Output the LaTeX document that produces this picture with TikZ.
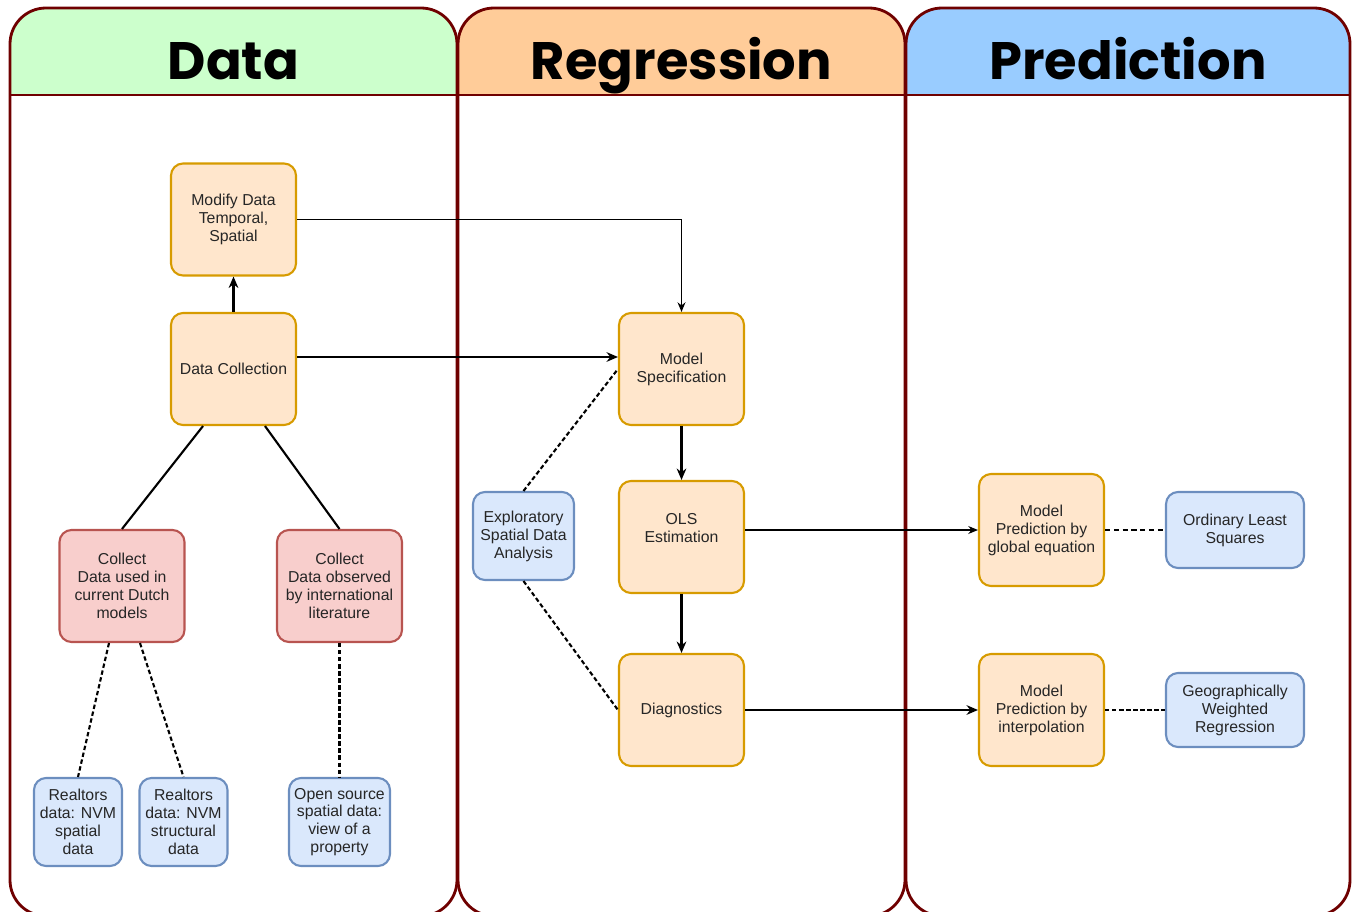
\documentclass[tikz,border=0pt]{standalone}
\usepackage{fontspec}
\setmainfont{Liberation Sans}
\newfontfamily\lanefont{Poppins}
\usetikzlibrary{arrows.meta}

\definecolor{datagreen}{HTML}{CCFFCC}
\definecolor{reggold}{HTML}{FFCC99}
\definecolor{predblue}{HTML}{99CCFF}
\definecolor{lanered}{HTML}{6F0000}
\definecolor{orangefill}{HTML}{FFE6CC}
\definecolor{orangeline}{HTML}{D79B00}
\definecolor{redfill}{HTML}{F8CECC}
\definecolor{redline}{HTML}{B85450}
\definecolor{bluefill}{HTML}{DAE8FC}
\definecolor{blueline}{HTML}{6C8EBF}

\begin{document}
\begin{tikzpicture}[x=0.02cm, y=-0.02cm,
    lane/.style={draw=lanered, line width=1.6pt, rounded corners=0.72cm},
    lanetitle/.style={font=\lanefont\bfseries\fontsize{30}{36}\selectfont, anchor=base},
    box/.style={rounded corners=0.24cm, line width=1.2pt, align=center, inner sep=1pt,
        font=\fontsize{9}{10.2}\selectfont, text=black!85},
    orangebox/.style={box, draw=orangeline, fill=orangefill, minimum width=2.5cm, minimum height=2.24cm},
    redbox/.style={box, draw=redline, fill=redfill, minimum width=2.5cm, minimum height=2.24cm},
    bluebox/.style={box, draw=blueline, fill=bluefill, minimum width=1.76cm, minimum height=1.76cm},
    flow/.style={-{Stealth[length=6.5pt,width=5.5pt]}, line width=1.2pt},
    thinflow/.style={-{Stealth[length=5.5pt,width=4.5pt]}, line width=0.6pt},
    link/.style={line width=1.2pt},
    dotlink/.style={line width=1.2pt, dash pattern=on 2.5pt off 1.5pt},
    dashlink/.style={line width=0.6pt, dash pattern=on 3pt off 2pt}]

    \useasboundingbox (0,0) rectangle (1352,912);

    % swimlanes
    \foreach \x/\w/\c/\t [count=\n] in {10/447/datagreen/Data, 458/447/reggold/Regression, 906/444/predblue/Prediction} {
        \begin{scope}
            \clip[rounded corners=0.72cm] (\x,8) rectangle ({\x+\w},916);
            \fill[\c] (\x,8) rectangle ({\x+\w},95);
        \end{scope}
        \draw[lane] (\x,8) rectangle ({\x+\w},916);
        \draw[lane] (\x,95) -- ({\x+\w},95);
        \node[lanetitle] (title\n) at ({\x+\w/2},80) {\t};
    }

    % data lane
    \node[orangebox] (modify) at (233.5,219.5) {Modify Data\\Temporal,\\Spatial};
    \node[orangebox] (collect) at (233.5,369) {Data Collection};
    \node[redbox] (dutch) at (122,586) {Collect\\Data used in\\current Dutch\\models};
    \node[redbox] (intl) at (339.5,586) {Collect\\Data observed\\by international\\literature};
    \node[bluebox] (nvmspatial) at (78,822) {Realtors\\data: NVM\\spatial\\data};
    \node[bluebox] (nvmstruct) at (183.5,822) {Realtors\\data: NVM\\structural\\data};
    \node[bluebox, minimum width=2.02cm] (opensrc) at (339.5,822) {Open source\\spatial data:\\view of a\\property};

    % regression lane
    \node[orangebox] (spec) at (681.5,369) {Model\\Specification};
    \node[orangebox] (ols) at (681.5,537) {OLS\\Estimation\\\mbox{}};
    \node[orangebox] (diag) at (681.5,710) {Diagnostics};
    \node[bluebox, minimum width=2.02cm] (esda) at (523.5,536) {Exploratory\\Spatial Data\\Analysis};

    % prediction lane
    \node[orangebox] (globaleq) at (1041.5,530) {Model\\Prediction by\\global equation};
    \node[orangebox] (interp) at (1041.5,710) {Model\\Prediction by\\interpolation};
    \node[bluebox, minimum width=2.76cm, minimum height=1.52cm] (olsq) at (1235,530) {Ordinary Least\\Squares};
    \node[bluebox, minimum width=2.76cm, minimum height=1.48cm] (gwr) at (1235,710) {Geographically\\Weighted\\Regression};

    % connectors
    \draw[flow] (collect) -- (modify);
    \draw[thinflow] (modify.east) -| (spec.north);
    \draw[flow] ([yshift=0.24cm]collect.east) -- ([yshift=0.24cm]spec.west);
    \draw[link] ([xshift=-0.61cm]collect.south) -- (dutch.north);
    \draw[link] ([xshift=0.63cm]collect.south) -- (intl.north);
    \draw[dotlink] ([xshift=-0.26cm]dutch.south) -- (nvmspatial.north);
    \draw[dotlink] ([xshift=0.36cm]dutch.south) -- (nvmstruct.north);
    \draw[dotlink] (intl) -- (opensrc);
    \draw[dotlink] (esda.north) -- (spec.west);
    \draw[dotlink] (esda.south) -- (diag.west);
    \draw[flow] (spec) -- (ols);
    \draw[flow] (ols) -- (diag);
    \draw[thinflow] (ols.east |- globaleq) -- (globaleq);
    \draw[flow] (diag) -- (interp);
    \draw[dashlink] (globaleq) -- (olsq);
    \draw[dotlink] (interp) -- (gwr);

\end{tikzpicture}
\end{document}
